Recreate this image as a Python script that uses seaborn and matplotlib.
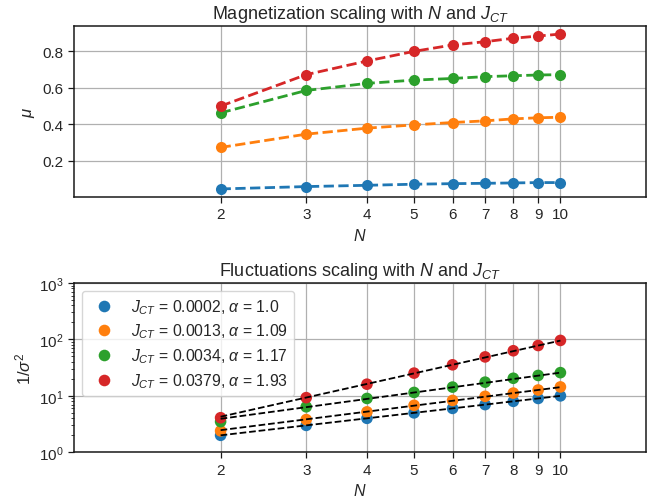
import numpy as np
import pandas as pd
import matplotlib
matplotlib.use("Agg")
import matplotlib.pyplot as plt
from matplotlib.ticker import NullLocator, FixedLocator, FixedFormatter
import seaborn as sns

# System sizes
N_vals = [2, 3, 4, 5, 6, 7, 8, 9, 10]

# Coupling strengths and fitted exponents
J_ct = ["0.0002", "0.0013", "0.0034", "0.0379"]
alphas = [1.0, 1.09, 1.17, 1.93]

# Magnetization mu(N) for each coupling
mu_0002 = [0.044, 0.057, 0.064, 0.070, 0.073, 0.075, 0.077, 0.079, 0.079]
mu_0013 = [0.272, 0.345, 0.378, 0.396, 0.409, 0.418, 0.429, 0.435, 0.438]
mu_0034 = [0.462, 0.585, 0.624, 0.642, 0.651, 0.661, 0.666, 0.670, 0.672]
mu_0379 = [0.499, 0.672, 0.747, 0.800, 0.835, 0.853, 0.872, 0.884, 0.895]

# Inverse variance 1/sigma^2 for each coupling
inv_var_0002 = [2.0, 3.0, 4.0, 5.0, 6.0, 7.0, 8.0, 9.0, 10.0]
inv_var_0013 = [2.4, 3.8, 5.2, 6.8, 8.3, 9.8, 11.2, 12.7, 14.4]
inv_var_0034 = [3.5, 6.4, 9.0, 11.5, 14.3, 17.5, 20.5, 23.0, 25.8]
inv_var_0379 = [4.1, 9.3, 16.1, 25.3, 35.5, 49.0, 63.0, 78.0, 96.0]

mu_sets = [mu_0002, mu_0013, mu_0034, mu_0379]
inv_sets = [inv_var_0002, inv_var_0013, inv_var_0034, inv_var_0379]

labels = [rf"$J_{{CT}}$ = {j}, $\alpha$ = {a}" for j, a in zip(J_ct, alphas)]
palette = sns.color_palette("tab10", 4)

rows = []
for lab, mus, invs in zip(labels, mu_sets, inv_sets):
    for n, m, v in zip(N_vals, mus, invs):
        rows.append({"N": n, "mu": m, "inv_var": v, "label": lab})
df = pd.DataFrame(rows)

sns.set_style("ticks")
plt.rcParams["font.family"] = ["Liberation Sans", "DejaVu Sans"]
plt.rcParams["mathtext.fontset"] = "custom"
plt.rcParams["mathtext.rm"] = "Liberation Sans"
plt.rcParams["mathtext.it"] = "Liberation Sans:italic"
plt.rcParams["mathtext.bf"] = "Liberation Sans:bold"
plt.rcParams["axes.edgecolor"] = "#1a1a1a"
plt.rcParams["axes.linewidth"] = 1.1

fig = plt.figure(figsize=(6.63, 5.02), dpi=100)
ax1 = fig.add_axes([0.112, 0.6062, 0.8624, 0.3394])
ax2 = fig.add_axes([0.112, 0.097, 0.8624, 0.3373])

# --- Magnetization ---
sns.lineplot(data=df, x="N", y="mu", hue="label", hue_order=labels,
             palette=palette, marker="o", markersize=8, markeredgewidth=0,
             linestyle="--", linewidth=2, ax=ax1, legend=False)
ax1.set_xscale("log")
ax1.set_xlim(1, 15)
ax1.set_xlabel("$N$", fontsize=11.5)
ax1.set_ylabel(r"$\mu$", fontsize=12)
ax1.set_title(r"Magnetization scaling with $N$ and $J_{CT}$", fontsize=13)

# --- Fluctuations ---
sns.scatterplot(data=df, x="N", y="inv_var", hue="label", hue_order=labels,
                palette=palette, s=70, linewidth=0, ax=ax2, zorder=3)
logN = np.log(np.array(N_vals, dtype=float))
for a, invs in zip(alphas, inv_sets):
    c = np.exp(np.mean(np.log(invs) - a * logN))
    fit = c * np.array(N_vals, dtype=float) ** a
    sns.lineplot(x=N_vals, y=fit, color="black", linestyle="--",
                 linewidth=1.3, ax=ax2, zorder=4)
ax2.set_xscale("log")
ax2.set_yscale("log")
ax2.set_xlim(1, 15)
ax2.set_ylim(1, 1000)
ax2.set_xlabel("$N$", fontsize=11.5)
ax2.set_ylabel(r"$1/\sigma^2$", fontsize=12)
ax2.set_title(r"Fluctuations scaling with $N$ and $J_{CT}$", fontsize=13)
handles, hl = ax2.get_legend_handles_labels()
ax2.legend(handles, hl, loc="upper left", fontsize=11.3, frameon=True,
           markerscale=1.0, handletextpad=0.7, labelspacing=0.38)

for ax in (ax1, ax2):
    ax.xaxis.set_major_locator(FixedLocator(N_vals))
    ax.xaxis.set_major_formatter(FixedFormatter([str(n) for n in N_vals]))
    ax.xaxis.set_minor_locator(NullLocator())
    ax.grid(True, which="major", color="#b0b0b0", linewidth=0.9)
    ax.set_axisbelow(True)
    ax.tick_params(which="major", bottom=True, left=True, direction="out",
                   length=4, width=0.9, color="#1a1a1a", labelsize=11)
    for sp in ax.spines.values():
        sp.set_visible(True)
ax2.tick_params(axis="y", which="minor", left=True, length=2.2, width=0.6,
                color="#1a1a1a")

fig.savefig("out.png", dpi=100)
